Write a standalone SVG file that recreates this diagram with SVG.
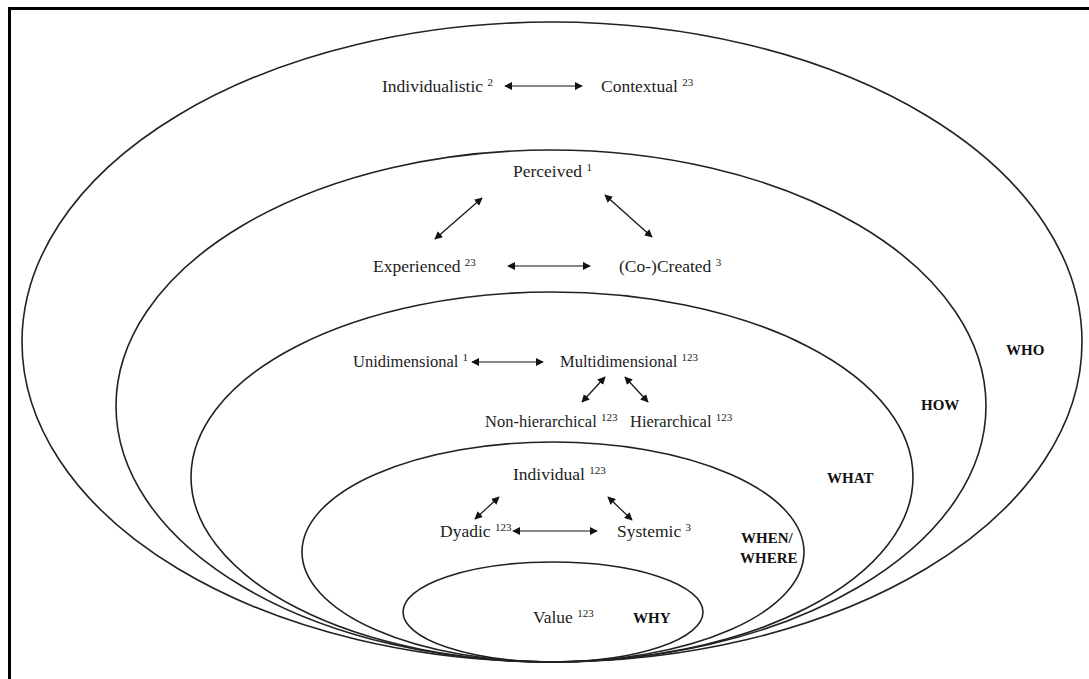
<svg xmlns="http://www.w3.org/2000/svg" width="1089" height="679" viewBox="0 0 1089 679">
<defs>
<marker id="ah" viewBox="0 0 10 10" refX="9" refY="5" markerWidth="8" markerHeight="8" markerUnits="userSpaceOnUse" orient="auto-start-reverse">
<path d="M0,0 L10,5 L0,10 z" fill="#111"/>
</marker>
<style>
.ring{fill:none;stroke:#222;stroke-width:1.6}
.t{font-size:17.5px;fill:#222}
.m{font-size:16.5px;fill:#222}
.b{font-size:15px;font-weight:bold;fill:#111}
.s{font-size:11px}
.a{stroke:#111;stroke-width:1.2;fill:none;marker-start:url(#ah);marker-end:url(#ah)}
</style>
</defs>
<rect x="0" y="0" width="1089" height="679" fill="#fff"/>
<path d="M9.5,679 L9.5,8.5 L1089,8.5" fill="none" stroke="#000" stroke-width="3"/>

<g font-family="'Liberation Serif', 'Times New Roman', 'DejaVu Serif', serif">
<g id="who">
<ellipse class="ring" cx="552" cy="342" rx="530" ry="320"/>
<text class="b" x="1006" y="355">WHO</text>
<text class="t" x="382" y="92">Individualistic <tspan class="s" dy="-6">2</tspan></text>
<text class="t" x="601" y="92">Contextual <tspan class="s" dy="-6">23</tspan></text>
</g>
<g id="how">
<ellipse class="ring" cx="551" cy="406" rx="435" ry="256"/>
<text class="b" x="921" y="410">HOW</text>
<text class="t" x="513" y="177">Perceived <tspan class="s" dy="-6">1</tspan></text>
<text class="t" x="373" y="272">Experienced <tspan class="s" dy="-6">23</tspan></text>
<text class="t" x="619" y="272">(Co-)Created <tspan class="s" dy="-6">3</tspan></text>
</g>
<g id="what">
<ellipse class="ring" cx="552" cy="477" rx="361" ry="185"/>
<text class="b" x="827" y="483">WHAT</text>
<text class="m" x="353" y="367">Unidimensional <tspan class="s" dy="-6">1</tspan></text>
<text class="m" x="560" y="367" font-size="15.5">Multidimensional <tspan class="s" dy="-6">123</tspan></text>
<text class="m" x="485" y="427">Non-hierarchical <tspan class="s" dy="-6">123</tspan></text>
<text class="m" x="630" y="427">Hierarchical <tspan class="s" dy="-6">123</tspan></text>
</g>
<g id="whenwhere">
<ellipse class="ring" cx="553" cy="552" rx="251" ry="110"/>
<text class="b" x="741" y="543">WHEN/</text>
<text class="b" x="740" y="563">WHERE</text>
<text class="t" x="513" y="480">Individual <tspan class="s" dy="-6">123</tspan></text>
<text class="t" x="440" y="537">Dyadic <tspan class="s" dy="-6">123</tspan></text>
<text class="t" x="617" y="537">Systemic <tspan class="s" dy="-6">3</tspan></text>
</g>
<g id="why">
<ellipse class="ring" cx="553" cy="612" rx="150" ry="50"/>
<text class="t" x="533" y="623">Value <tspan class="s" dy="-6">123</tspan></text>
<text class="b" x="633" y="623">WHY</text>
</g>
</g>

<g id="connectors">
<line class="a" x1="505" y1="86" x2="582" y2="86"/>
<line class="a" x1="482" y1="198" x2="435" y2="239"/>
<line class="a" x1="605" y1="195" x2="652" y2="237"/>
<line class="a" x1="508" y1="266" x2="590" y2="266"/>
<line class="a" x1="472" y1="362" x2="543" y2="362"/>
<line class="a" x1="605" y1="377" x2="582" y2="402"/>
<line class="a" x1="625" y1="377" x2="648" y2="402"/>
<line class="a" x1="499" y1="497" x2="475" y2="519"/>
<line class="a" x1="608" y1="497" x2="632" y2="520"/>
<line class="a" x1="513" y1="531" x2="597" y2="531"/>
</g>
</svg>
